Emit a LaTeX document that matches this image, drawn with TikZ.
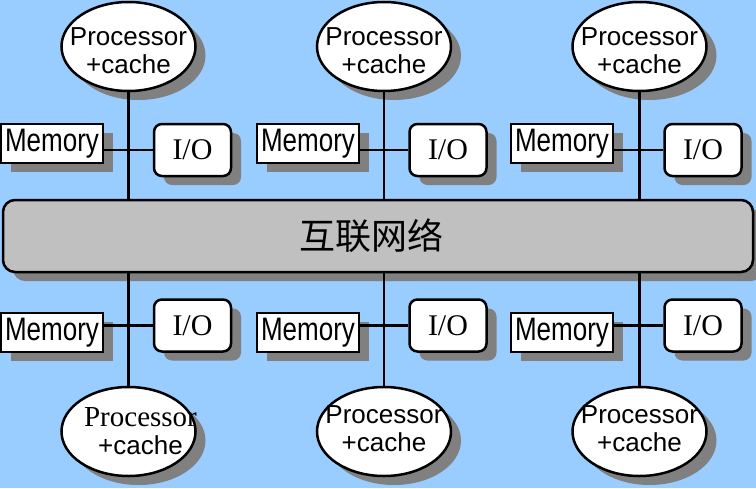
\documentclass[tikz,border=0pt]{standalone}
\usepackage{fontspec}
\setmainfont{Liberation Sans}
\newfontfamily\timesfont{Liberation Serif}
\newfontfamily\cjk{Noto Sans CJK SC}
\usetikzlibrary{shapes.geometric,shadows}
\definecolor{bgblue}{RGB}{153,204,255}
\definecolor{busgray}{RGB}{192,192,192}
\definecolor{shade}{RGB}{128,128,128}
\newcommand{\tallword}[1]{\scalebox{1}[1.25]{#1}}

\begin{document}
\begin{tikzpicture}[x=1pt, y=-1pt,
    shd/.style={general shadow={fill=shade, shadow xshift=10pt, shadow yshift=-9pt}},
    cpu/.style={ellipse, draw, line width=2.5pt, fill=white, shd, minimum width=134pt, minimum height=89pt, inner sep=0pt},
    cputext/.style={inner sep=0pt, align=center, font=\fontsize{26}{28}\selectfont},
    mem/.style={draw, line width=2.5pt, fill=white, shd, minimum width=102pt, minimum height=39pt, inner sep=0pt, font=\fontsize{26}{28}\selectfont},
    io/.style={draw, rounded corners=8pt, line width=2.5pt, fill=white, shd, minimum width=77pt, minimum height=52pt, inner sep=0pt, font=\timesfont\fontsize{30}{32}\selectfont},
    bus/.style={draw, rounded corners=12pt, line width=2.5pt, fill=busgray, shd, minimum width=750pt, minimum height=72pt, inner sep=0pt, font=\cjk\fontsize{36}{40}\selectfont},
    link/.style={line width=2.5pt}
]
\useasboundingbox (0,0) rectangle (756,488);
\fill[bgblue] (0,0) rectangle (756,488);

\node[bus] (net) at (378,236) {\hspace*{-14pt}互联网络};

% upper row
\node[cpu, label={[cputext, yshift=-4pt]center:Processor\\+cache}] (cpu1t) at (128.5,46.5) {};
\node[cpu, label={[cputext, yshift=-4pt]center:Processor\\+cache}] (cpu2t) at (384,46.5) {};
\node[cpu, label={[cputext, yshift=-4pt]center:Processor\\+cache}] (cpu3t) at (639.5,46.5) {};
\node[mem] (mem1t) at (52,143.5) {\tallword{Memory}};
\node[mem] (mem2t) at (308,143.5) {\tallword{Memory}};
\node[mem] (mem3t) at (562,143.5) {\tallword{Memory}};
\node[io] (io1t) at (192.5,150) {I/O};
\node[io] (io2t) at (448,150) {I/O};
\node[io] (io3t) at (703,150) {I/O};

% lower row
\node[cpu, label={[cputext, xshift=12pt]center:{\timesfont\fontsize{29}{28}\selectfont Processor}\\+cache}] (cpu1b) at (128.5,431.5) {};
\node[cpu, label={[cputext, yshift=3pt]center:Processor\\+cache}] (cpu2b) at (384,431.5) {};
\node[cpu, label={[cputext, yshift=3pt]center:Processor\\+cache}] (cpu3b) at (639.5,431.5) {};
\node[mem] (mem1b) at (52,332.5) {\tallword{Memory}};
\node[mem] (mem2b) at (308,332.5) {\tallword{Memory}};
\node[mem] (mem3b) at (562,332.5) {\tallword{Memory}};
\node[io] (io1b) at (192.5,325.5) {I/O};
\node[io] (io2b) at (448,325.5) {I/O};
\node[io] (io3b) at (703,325.5) {I/O};

\draw[link] (cpu1t.south) -- (cpu1t.south |- net.north);
\draw[link] (cpu2t.south) -- (cpu2t.south |- net.north);
\draw[link] (cpu3t.south) -- (cpu3t.south |- net.north);
\draw[link] (cpu1b.north) -- (cpu1b.north |- net.south);
\draw[link] (cpu2b.north) -- (cpu2b.north |- net.south);
\draw[link] (cpu3b.north) -- (cpu3b.north |- net.south);

\draw[link] (io1t.west) -- (io1t.west -| mem1t.east);
\draw[link] (io2t.west) -- (io2t.west -| mem2t.east);
\draw[link] (io3t.west) -- (io3t.west -| mem3t.east);
\draw[link] (io1b.west) -- (io1b.west -| mem1b.east);
\draw[link] (io2b.west) -- (io2b.west -| mem2b.east);
\draw[link] (io3b.west) -- (io3b.west -| mem3b.east);
\end{tikzpicture}
\end{document}
